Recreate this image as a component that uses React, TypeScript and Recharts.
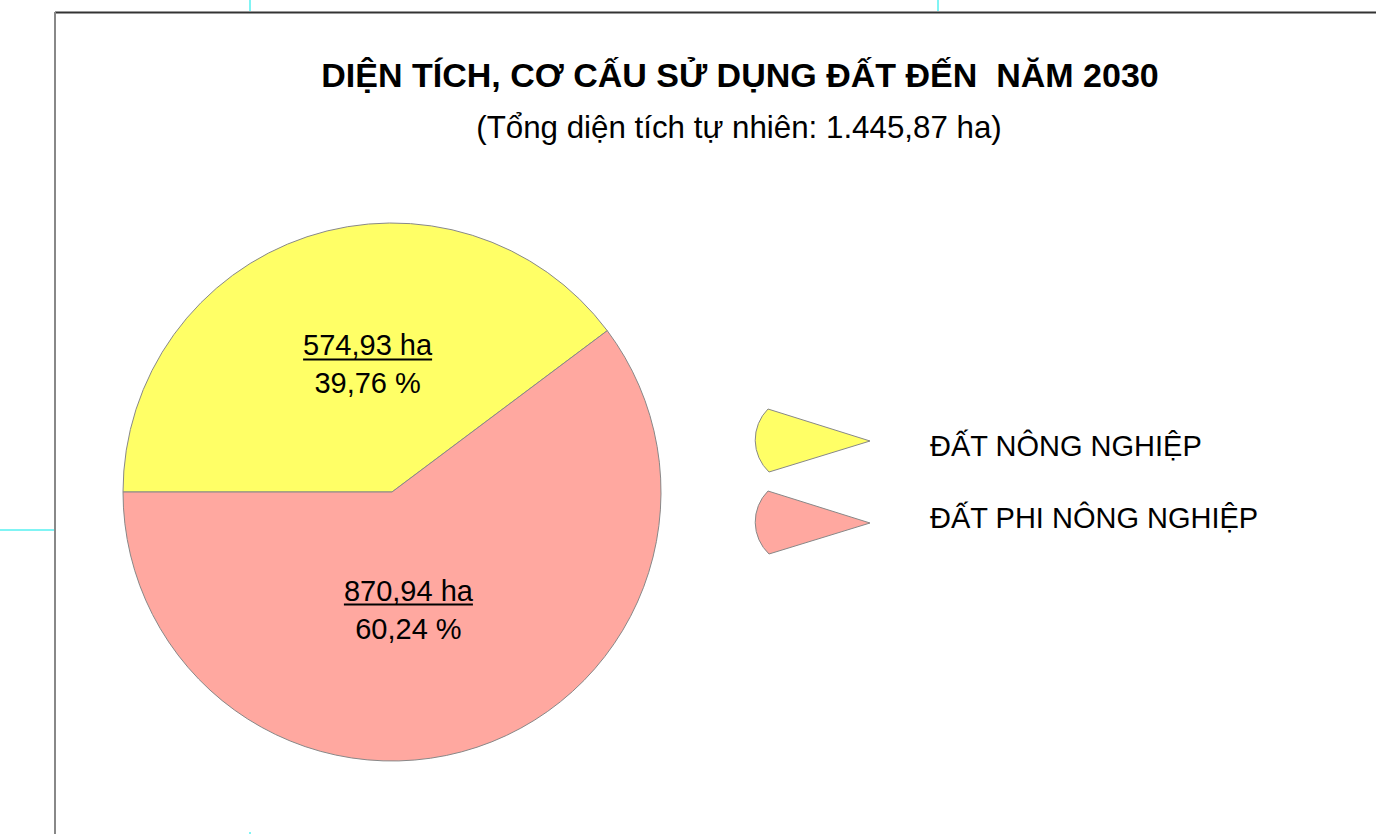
import { PieChart, Pie, Cell, Legend } from 'recharts';

const categories = ['ĐẤT NÔNG NGHIỆP', 'ĐẤT PHI NÔNG NGHIỆP'];
const areas = [574.93, 870.94];
const colors = ['#FFFF66', '#FFA8A0'];
const total = 1445.87;

const chartData = categories.map((name, i) => ({ name, value: areas[i] }));

const fmt = (v: number) => v.toFixed(2).replace('.', ',');
const FONT = '"Liberation Sans", Arial, sans-serif';

const RADIAN = Math.PI / 180;

// rough Arial widths, only used for the underline length
const textWidth = (s: string, size: number) =>
  s.split('').reduce((w, c) => w + (c === ',' || c === ' ' || c === '.' ? 0.278 : 0.556), 0) * size;

function renderLabel(props: any) {
  const { cx, cy, midAngle, outerRadius, value } = props;
  const x = cx - 4 + 0.24 * outerRadius * Math.cos(-midAngle * RADIAN);
  const y = cy + 0.48 * outerRadius * Math.sin(-midAngle * RADIAN);
  const pct = (value / total) * 100;
  const top = `${fmt(value)} ha`;
  const w = textWidth(top, 29);
  return (
    <g>
      <text x={x} y={y - 14} textAnchor="middle" fontSize={29} fontFamily={FONT} fill="#000">
        {top}
      </text>
      <line x1={x - w / 2} x2={x + w / 2} y1={y - 10} y2={y - 10} stroke="#000" strokeWidth={2} />
      <text x={x} y={y + 24} textAnchor="middle" fontSize={29} fontFamily={FONT} fill="#000">
        {fmt(pct)} %
      </text>
    </g>
  );
}

function renderLegend() {
  return (
    <svg width={560} height={160}>
      {categories.map((name, i) => (
        <g key={name}>
          <path
            d={`M 116 ${33 + i * 82} L 14 ${1 + i * 82} A 44 44 0 0 0 15 ${64 + i * 82} Z`}
            fill={colors[i]}
            stroke="#888"
            strokeWidth={1}
          />
          <text x={176} y={48 + i * 72} fontSize={29} fontFamily={FONT} fill="#000">
            {name}
          </text>
        </g>
      ))}
    </svg>
  );
}

export default function App() {
  return (
    <div style={{ position: 'absolute', left: 0, top: 0, width: 1376, height: 834, background: '#fff', overflow: 'hidden' }}>
      <PieChart width={1376} height={834} margin={{ top: 0, right: 0, bottom: 0, left: 0 }}>
        <Pie
          data={chartData}
          dataKey="value"
          nameKey="name"
          cx={392}
          cy={492}
          outerRadius={269}
          startAngle={180}
          endAngle={-180}
          stroke="#888"
          strokeWidth={1}
          label={renderLabel}
          labelLine={false}
          isAnimationActive={false}
        >
          {chartData.map((d, i) => (
            <Cell key={d.name} fill={colors[i]} />
          ))}
        </Pie>
        <Legend
          content={renderLegend}
          wrapperStyle={{ position: 'absolute', left: 754, top: 408, width: 560, height: 160 }}
        />
      </PieChart>
      <svg width={1376} height={834} style={{ position: 'absolute', left: 0, top: 0, pointerEvents: 'none' }}>
        <line x1={250} y1={0} x2={250} y2={11} stroke="#80F4F4" strokeWidth={2} />
        <line x1={938} y1={0} x2={938} y2={11} stroke="#80F4F4" strokeWidth={2} />
        <line x1={0} y1={530} x2={54} y2={530} stroke="#80F4F4" strokeWidth={2} />
        <line x1={250} y1={832} x2={250} y2={834} stroke="#80F4F4" strokeWidth={2} />
        <line x1={55} y1={12.5} x2={1376} y2={12.5} stroke="#333" strokeWidth={2} />
        <line x1={55} y1={12} x2={55} y2={834} stroke="#888" strokeWidth={2} />
        <text x={740} y={87} textAnchor="middle" fontSize={34} fontWeight="bold" fontFamily={FONT} fill="#000">
          DIỆN TÍCH, CƠ CẤU SỬ DỤNG ĐẤT ĐẾN{'\u00A0'} NĂM 2030
        </text>
        <text x={739} y={138} textAnchor="middle" fontSize={31.3} fontFamily={FONT} fill="#000">
          (Tổng diện tích tự nhiên: 1.445,87 ha)
        </text>
      </svg>
    </div>
  );
}
